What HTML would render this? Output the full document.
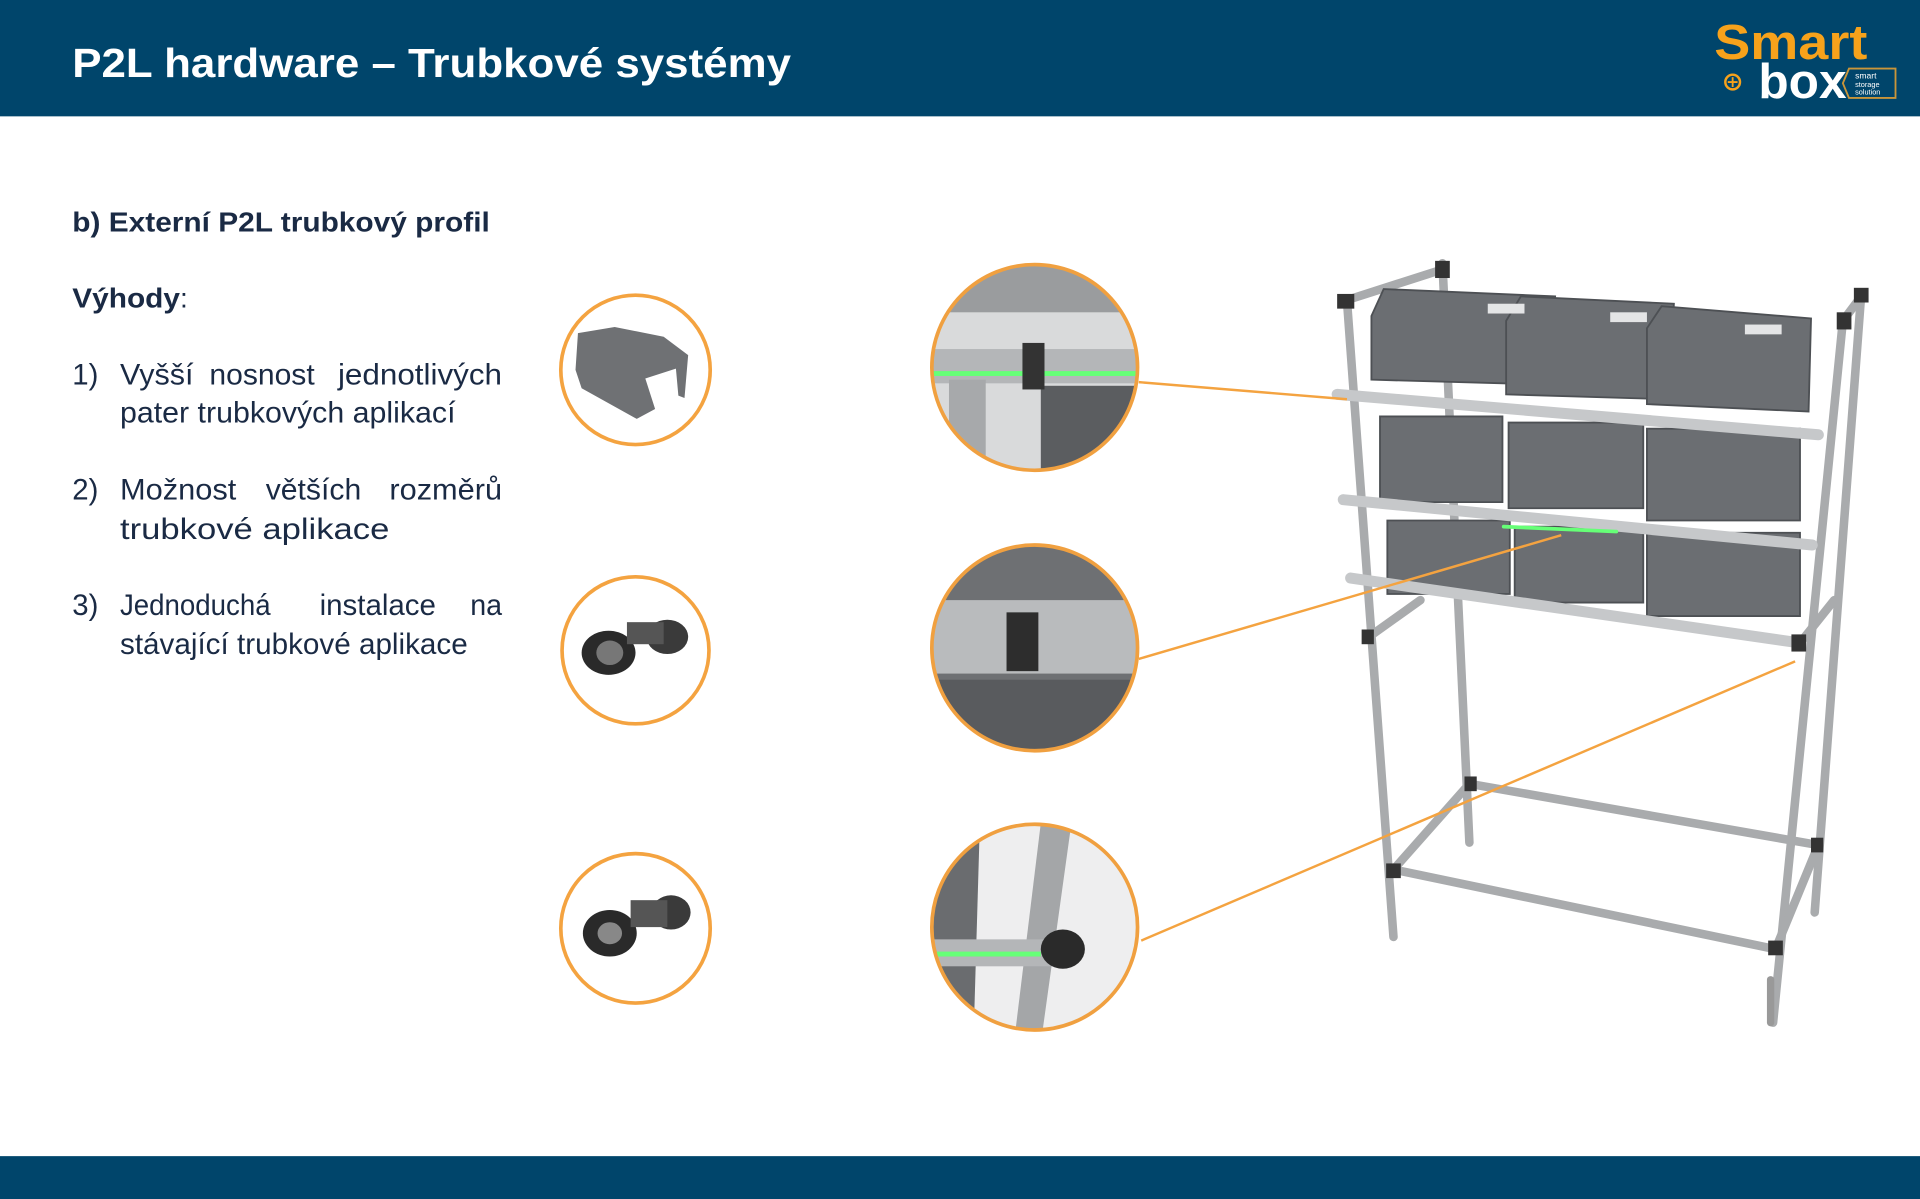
<!DOCTYPE html>
<html><head><meta charset="utf-8"><style>
html,body{margin:0;padding:0;background:#fff;}
svg{display:block;}
text{font-family:"Liberation Sans",sans-serif;}
</style></head><body>
<svg width="1920" height="1199" viewBox="0 0 1568 979" preserveAspectRatio="none" xmlns="http://www.w3.org/2000/svg">
<rect x="0" y="0" width="1568" height="95" fill="#00456b"/>
<rect x="0" y="944" width="1568" height="35" fill="#00456b"/>
<text x="59" y="63" font-size="33" font-weight="bold" fill="#fff" textLength="587" lengthAdjust="spacingAndGlyphs">P2L hardware – Trubkové systémy</text>
<!-- logo -->
<text x="1400" y="48" font-size="40" font-weight="bold" fill="#f7a21b" textLength="125" lengthAdjust="spacingAndGlyphs">Smart</text>
<text x="1436" y="80" font-size="40" font-weight="bold" fill="#fff" textLength="72" lengthAdjust="spacingAndGlyphs">box</text>
<circle cx="1415" cy="67" r="6" fill="none" stroke="#f7a21b" stroke-width="2"/>
<path d="M1415 63v8M1411 67h8" stroke="#f7a21b" stroke-width="1.5"/>
<path d="M1510 56h38v24h-38l-5-12z" fill="none" stroke="#c9953a" stroke-width="1.5"/>
<text x="1515" y="64" font-size="7" fill="#fff">smart</text>
<text x="1515" y="71" font-size="6" fill="#fff">storage</text>
<text x="1515" y="77" font-size="6" fill="#fff">solution</text>
<!-- left text -->
<g fill="#1a2a44">
<text x="59" y="189" font-size="23" font-weight="bold" textLength="341" lengthAdjust="spacingAndGlyphs">b) Externí P2L trubkový profil</text>
<text x="59" y="251" font-size="23" font-weight="bold" textLength="88" lengthAdjust="spacingAndGlyphs">Výhody</text><text x="147" y="251" font-size="23">:</text>
<g font-size="24">
<text x="59" y="314">1)</text>
<text x="98" y="314" textLength="60" lengthAdjust="spacingAndGlyphs">Vyšší</text>
<text x="171" y="314" textLength="86" lengthAdjust="spacingAndGlyphs">nosnost</text>
<text x="276" y="314" textLength="134" lengthAdjust="spacingAndGlyphs">jednotlivých</text>
<text x="98" y="345" textLength="274" lengthAdjust="spacingAndGlyphs">pater trubkových aplikací</text>
<text x="59" y="408">2)</text>
<text x="98" y="408" textLength="95" lengthAdjust="spacingAndGlyphs">Možnost</text>
<text x="217" y="408" textLength="78" lengthAdjust="spacingAndGlyphs">větších</text>
<text x="318" y="408" textLength="92" lengthAdjust="spacingAndGlyphs">rozměrů</text>
<text x="98" y="440" textLength="220" lengthAdjust="spacingAndGlyphs">trubkové aplikace</text>
<text x="59" y="502">3)</text>
<text x="98" y="502" textLength="123" lengthAdjust="spacingAndGlyphs">Jednoduchá</text>
<text x="261" y="502" textLength="95" lengthAdjust="spacingAndGlyphs">instalace</text>
<text x="384" y="502" textLength="26" lengthAdjust="spacingAndGlyphs">na</text>
<text x="98" y="534" textLength="284" lengthAdjust="spacingAndGlyphs">stávající trubkové aplikace</text>
</g></g>
<!-- small circles -->
<circle cx="519" cy="302" r="61" fill="#fff" stroke="#f4a340" stroke-width="3"/>
<path d="M472 272l30-5 40 8 20 15-3 35-5-2-2-22-25 8 8 25-15 8-45-25-5-15z" fill="#6f7174"/>
<circle cx="519" cy="531" r="60" fill="#fff" stroke="#f4a340" stroke-width="3"/>
<ellipse cx="497" cy="533" rx="22" ry="18" fill="#2a2a2a"/><ellipse cx="498" cy="533" rx="11" ry="10" fill="#777"/>
<ellipse cx="545" cy="520" rx="17" ry="14" fill="#3a3a3a"/><rect x="512" y="508" width="30" height="18" fill="#555"/>
<circle cx="519" cy="758" r="61" fill="#fff" stroke="#f4a340" stroke-width="3"/>
<ellipse cx="498" cy="762" rx="22" ry="19" fill="#2a2a2a"/><ellipse cx="498" cy="762" rx="10" ry="9" fill="#888"/>
<ellipse cx="548" cy="745" rx="16" ry="14" fill="#3a3a3a"/><rect x="515" y="735" width="30" height="22" fill="#555"/>
<!-- big circles -->
<defs>
<clipPath id="c1"><circle cx="845" cy="300" r="84"/></clipPath>
<clipPath id="c2"><circle cx="845" cy="529" r="84"/></clipPath>
<clipPath id="c3"><circle cx="845" cy="757" r="84"/></clipPath>
</defs>
<g clip-path="url(#c1)">
<rect x="760" y="215" width="170" height="170" fill="#d9dadb"/>
<rect x="760" y="215" width="170" height="40" fill="#9a9c9e"/>
<rect x="850" y="315" width="80" height="70" fill="#5b5d60"/>
<rect x="760" y="285" width="170" height="28" fill="#b4b6b8"/>
<rect x="760" y="303" width="170" height="4" fill="#6f7"/>
<rect x="775" y="310" width="30" height="75" fill="#a7a9ab"/>
<rect x="835" y="280" width="18" height="38" fill="#333"/>
</g>
<circle cx="845" cy="300" r="84" fill="none" stroke="#f0a040" stroke-width="3"/>
<g clip-path="url(#c2)">
<rect x="760" y="444" width="170" height="170" fill="#6e7073"/>
<rect x="760" y="490" width="170" height="60" fill="#b9bbbd"/>
<rect x="760" y="555" width="170" height="60" fill="#595b5e"/>
<rect x="822" y="500" width="26" height="48" fill="#2d2d2d"/>
</g>
<circle cx="845" cy="529" r="84" fill="none" stroke="#f0a040" stroke-width="3"/>
<g clip-path="url(#c3)">
<rect x="760" y="672" width="170" height="170" fill="#eeeeef"/>
<path d="M760 680h40l-5 170h-35z" fill="#6a6c6f"/>
<path d="M850 672h25l-25 180h-22z" fill="#a4a6a8"/>
<rect x="760" y="767" width="100" height="22" fill="#b4b6b8"/>
<rect x="760" y="777" width="90" height="4" fill="#6f7"/>
<ellipse cx="868" cy="775" rx="18" ry="16" fill="#2a2a2a"/>
</g>
<circle cx="845" cy="757" r="84" fill="none" stroke="#f0a040" stroke-width="3"/>
<!-- rack -->
<g stroke-linecap="round">
<g stroke="#a9abad" stroke-width="7">
<line x1="1100" y1="245" x2="1138" y2="765"/>
<line x1="1178" y1="215" x2="1200" y2="688"/>
<line x1="1520" y1="240" x2="1482" y2="745"/>
<line x1="1505" y1="262" x2="1448" y2="835"/>
<line x1="1138" y1="710" x2="1450" y2="775"/>
<line x1="1200" y1="640" x2="1485" y2="690"/>
<line x1="1138" y1="710" x2="1200" y2="640"/>
<line x1="1450" y1="775" x2="1485" y2="690"/>
<line x1="1100" y1="245" x2="1178" y2="220"/>
<line x1="1505" y1="262" x2="1520" y2="242"/>
<line x1="1118" y1="520" x2="1160" y2="490"/>
<line x1="1470" y1="525" x2="1498" y2="490"/>
</g>
<g fill="#6b6e72" stroke="#4d5054" stroke-width="1.5">
<path d="M1120 258l10-22 140 6-6 72-144-4z"/>
<path d="M1230 262l12-20 125 6-4 78-133-4z"/>
<path d="M1345 268l12-18 122 10-2 76-132-6z"/>
<path d="M1127 340h100v70h-100z"/>
<path d="M1232 345h110v70h-110z"/>
<path d="M1345 350h125v75h-125z"/>
<path d="M1133 425h100v60h-100z"/>
<path d="M1237 430h105v62h-105z"/>
<path d="M1345 435h125v68h-125z"/>
</g>
<g fill="#e4e5e6">
<rect x="1215" y="248" width="30" height="8"/><rect x="1315" y="255" width="30" height="8"/><rect x="1425" y="265" width="30" height="8"/>
</g>
<g stroke="#c6c8ca" stroke-width="9">
<line x1="1092" y1="322" x2="1485" y2="355"/>
<line x1="1097" y1="408" x2="1480" y2="445"/>
<line x1="1103" y1="472" x2="1470" y2="525"/>
</g>
<line x1="1228" y1="430" x2="1320" y2="434" stroke="#6f7" stroke-width="3"/>
<g fill="#333">
<rect x="1092" y="240" width="14" height="12"/><rect x="1172" y="213" width="12" height="14"/>
<rect x="1500" y="255" width="12" height="14"/><rect x="1514" y="235" width="12" height="12"/>
<rect x="1132" y="705" width="12" height="12"/><rect x="1444" y="768" width="12" height="12"/>
<rect x="1196" y="634" width="10" height="12"/><rect x="1479" y="684" width="10" height="12"/>
<rect x="1463" y="518" width="12" height="14"/><rect x="1112" y="514" width="10" height="12"/>
</g>
<line x1="1446" y1="800" x2="1446" y2="835" stroke="#999" stroke-width="6"/>
</g>
<!-- leader lines -->
<g stroke="#f4a340" stroke-width="2">
<line x1="930" y1="312" x2="1100" y2="326"/>
<line x1="930" y1="538" x2="1275" y2="437"/>
<line x1="932" y1="768" x2="1466" y2="540"/>
</g>
</svg>
</body></html>
